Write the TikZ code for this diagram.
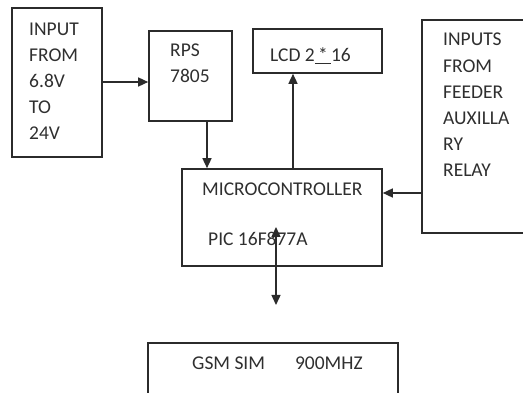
\documentclass[tikz,border=0pt]{standalone}
\usepackage{fontspec}
\setmainfont{Carlito}
\usetikzlibrary{arrows.meta,fit}
\definecolor{ln}{HTML}{2B2B2B}
\definecolor{tx}{HTML}{2F2F2F}
\tikzset{
  box/.style={draw=ln, line width=1.6pt, inner sep=0pt, fit={#1}},
  lbl/.style={anchor=base west, inner sep=0pt, text=tx, align=left,
    font=\fontsize{19.5}{26.2}\selectfont},
  arr/.style={draw=ln, line width=1.4pt, -{Triangle[length=10pt,width=9pt]}},
  darr/.style={draw=ln, line width=1.4pt, {Triangle[length=10pt,width=9pt]}-{Triangle[length=10pt,width=9pt]}}
}
\begin{document}
\begin{tikzpicture}[x=1pt,y=-1pt]
\useasboundingbox (0,0) rectangle (523,393);
\node[box={(12,8)(102,157)}] (inp) {};
\node[box={(149,31)(232,121)}] (rps) {};
\node[box={(253,29)(382,73)}] (lcd) {};
\node[box={(422,20)(535,233)}] (aux) {};
\node[box={(182,169)(382,266)}] (mcu) {};
\node[box={(148,343)(398,405)}] (gsm) {};

\node[lbl] (tinp) at (29,140) {INPUT\\FROM\\6.8V\\TO\\24V};
\node[lbl] (trps) at (170,83) {RPS\\7805};
\node[lbl] (tlcd) at (270,62) {LCD 2\underline{\,*\,}16};
\node[lbl] (taux) at (443,177) {INPUTS\\FROM\\FEEDER\\AUXILLA\\RY\\RELAY};
\node[lbl] (tmcu1) at (202,196) {MICROCONTROLLER};
\node[lbl] (tmcu2) at (208,246) {PIC 16F877A};
\node[lbl] (tgsm) at (192,370) {GSM SIM\hspace{30pt}900MHZ};

\coordinate (dtop) at (276,227);
\coordinate (dbot) at (276,305);
\draw[arr] (inp.east |- 0,82) -- (rps.west |- 0,82);
\draw[arr] (rps.south -| 207,0) -- (mcu.north -| 207,0);
\draw[arr] (mcu.north -| 293,0) -- (lcd.south -| 293,0);
\draw[arr] (aux.west |- 0,193) -- (mcu.east |- 0,193);
\draw[darr] (dtop) -- (dbot);
\end{tikzpicture}
\end{document}
